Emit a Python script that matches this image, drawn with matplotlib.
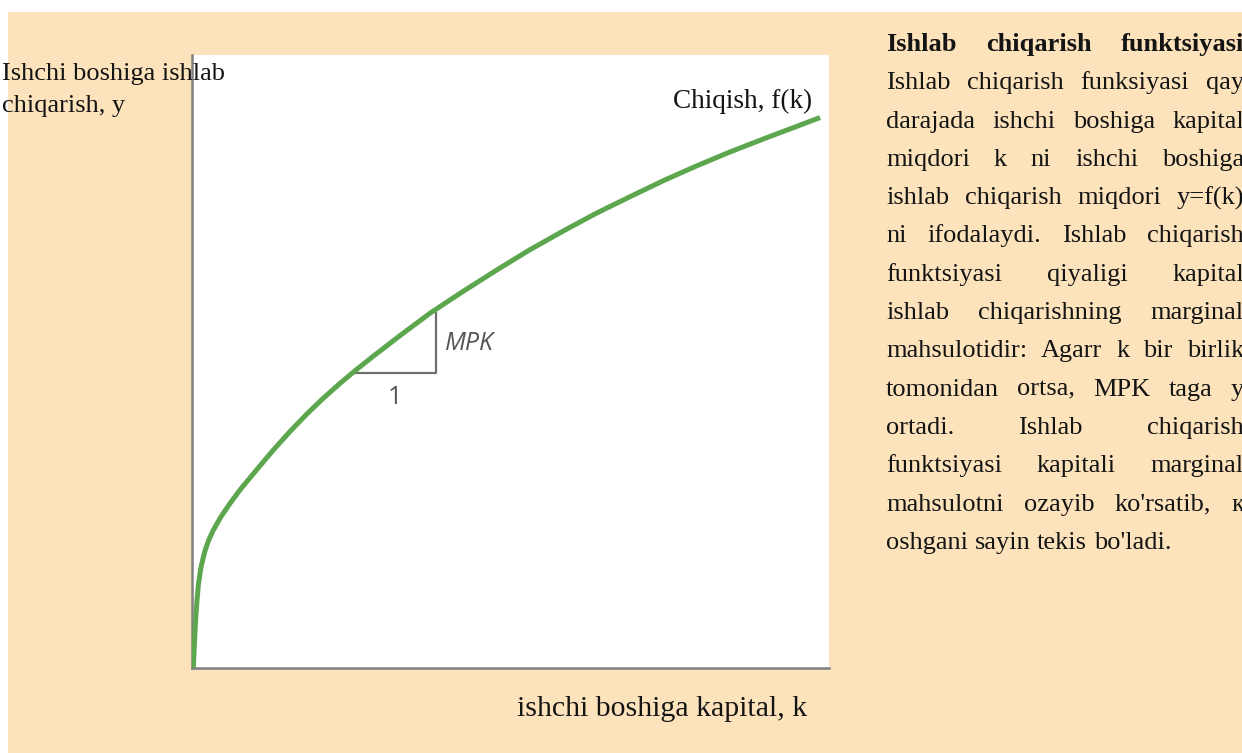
import matplotlib
matplotlib.use("Agg")
import matplotlib.pyplot as plt
from matplotlib.patches import Rectangle

# output per worker y = f(k) against capital per worker k
k_vals = [0.02, 0.04, 0.06, 0.08, 0.10, 0.14, 0.20, 0.26, 0.33, 0.45, 0.60,
          0.75, 0.86, 1.02, 1.28, 1.54, 1.80, 2.06, 2.32, 2.56, 2.85, 3.30,
          3.74, 4.25, 4.78, 5.30, 5.83, 6.35, 6.88, 7.40, 7.92, 8.45, 8.97, 9.86]
y_vals = [0.00, 0.45, 0.84, 1.12, 1.36, 1.64, 1.90, 2.08, 2.24, 2.46, 2.69,
          2.90, 3.04, 3.24, 3.56, 3.86, 4.14, 4.40, 4.64, 4.85, 5.09, 5.45,
          5.79, 6.14, 6.49, 6.82, 7.13, 7.42, 7.69, 7.95, 8.19, 8.42, 8.63, 8.98]

# slope triangle: one unit of k, MPK rise of f(k)
mpk_k = [2.55, 3.83]
mpk_y = [4.81, 5.79]

y_label = ["Ishchi boshiga ishlab", "chiqarish, y"]
x_label = "ishchi boshiga kapital, k"
curve_label = "Chiqish, f(k)"

note_title = "Ishlab chiqarish funktsiyasi"
note_lines = [
    "Ishlab chiqarish funksiyasi qay",
    "darajada ishchi boshiga kapital",
    "miqdori k ni ishchi boshiga",
    "ishlab chiqarish miqdori y=f(k)",
    "ni ifodalaydi. Ishlab chiqarish",
    "funktsiyasi qiyaligi kapital",
    "ishlab chiqarishning marginal",
    "mahsulotidir: Agarr k bir birlik",
    "tomonidan ortsa, MPK taga y",
    "ortadi. Ishlab chiqarish",
    "funktsiyasi kapitali marginal",
    "mahsulotni ozayib ko'rsatib, к",
    "oshgani sayin tekis bo'ladi.",
]

W, H = 1242, 753
serif = ["Liberation Serif", "DejaVu Serif"]
sans = ["Open Sans", "DejaVu Sans"]
ink = "#141414"
peach = "#FCE3BC"
green = "#5CA64E"
grey = "#6e6e6e"


def fx(px):
    return px / W


def fy(py):
    return 1 - py / H


fig = plt.figure(figsize=(W / 100, H / 100), dpi=100)
fig.patch.set_facecolor("white")
fig.add_artist(Rectangle((fx(8), 0), 1 - fx(8), fy(12), transform=fig.transFigure,
                         facecolor=peach, edgecolor="none", zorder=-5))

ax = fig.add_axes([fx(192), fy(668), fx(829 - 192), (668 - 55) / H])
ax.set_facecolor("white")
ax.set_xlim(0, 10)
ax.set_ylim(0, 10)
for s in ["top", "right"]:
    ax.spines[s].set_visible(False)
for s in ["left", "bottom"]:
    ax.spines[s].set_color("#808080")
    ax.spines[s].set_linewidth(1.8)
ax.set_xticks([])
ax.set_yticks([])

ax.plot(k_vals, y_vals, color=green, lw=3.6, solid_capstyle="butt",
        solid_joinstyle="round", zorder=3)

# MPK triangle
ax.plot([mpk_k[0], mpk_k[1], mpk_k[1]], [mpk_y[0], mpk_y[0], mpk_y[1]],
        color=grey, lw=1.6, zorder=2)
ax.text(mpk_k[1] + 0.14, (mpk_y[0] + mpk_y[1]) / 2, "MPK", fontsize=18,
        style="italic", family=sans, color="#555555", ha="left", va="center")
ax.text((mpk_k[0] + mpk_k[1]) / 2, mpk_y[0] - 0.2, "1", fontsize=18,
        family=sans, color="#555555", ha="center", va="top")

# axis labels and curve name
fig.text(fx(2), fy(80), y_label[0], fontsize=19, family=serif, color=ink, va="baseline")
fig.text(fx(2), fy(112), y_label[1], fontsize=19, family=serif, color=ink, va="baseline")
fig.text(fx(517), fy(716), x_label, fontsize=21.5, family=serif, color=ink, va="baseline")
fig.text(fx(673), fy(108), curve_label, fontsize=19.5, family=serif, color=ink,
         va="baseline")

# justified note on the right
renderer = fig.canvas.get_renderer()


def put_line(line, base, weight="normal", justify=True, x0=886, x1=1244):
    words = line.split()
    arts = [fig.text(0, fy(base), w, fontsize=19, fontweight=weight, family=serif,
                     color=ink, va="baseline") for w in words]
    widths = [a.get_window_extent(renderer).width for a in arts]
    if justify and len(words) > 1:
        gap = (x1 - x0 - sum(widths)) / (len(words) - 1)
    else:
        gap = 19 * 0.25 * 100 / 72
    x = x0
    for a, wd in zip(arts, widths):
        a.set_x(fx(x))
        x += wd + gap


step = 38.3
put_line(note_title, 51, weight="bold")
for i, line in enumerate(note_lines):
    put_line(line, 51 + (i + 1) * step, justify=(i < len(note_lines) - 1))

fig.savefig("out.png", dpi=100, facecolor=fig.get_facecolor())
